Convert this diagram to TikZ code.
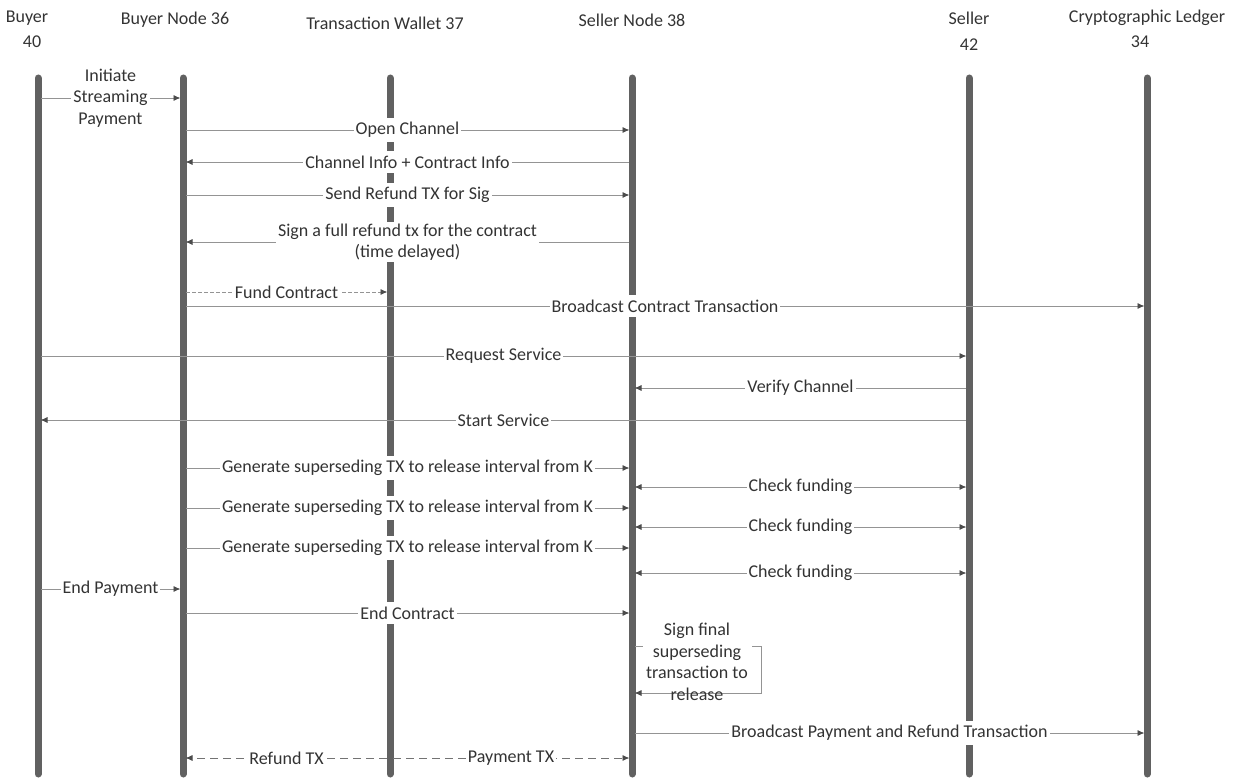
\documentclass[tikz,border=0pt]{standalone}
\usepackage{fontspec}
\setmainfont{Carlito}
\usetikzlibrary{arrows.meta}
\begin{document}
\begin{tikzpicture}[x=1pt,y=-1pt,
  life/.style={line width=7pt, line cap=round, draw=black!62},
  msg/.style={draw=black!42, line width=0.9pt, shorten >=2.5pt, shorten <=3pt,
    -{Latex[length=7pt,width=6pt,color=black!70]}},
  bimsg/.style={msg, {Latex[length=7pt,width=6pt,color=black!70]}-{Latex[length=7pt,width=6pt,color=black!70]}, shorten <=2.5pt},
  dmsg/.style={msg, draw=black!55, dash pattern=on 8pt off 5pt},
  fmsg/.style={msg, dash pattern=on 4pt off 2pt},
  lbl/.style={fill=white, inner xsep=2pt, inner ysep=4.5pt, text=black!80, align=center,
    font=\fontsize{18}{21.5}\selectfont},
  hdr/.style={text=black!80, font=\fontsize{18}{20}\selectfont, inner sep=0pt}]
\useasboundingbox (0,0) rectangle (1233,778);

% headers
\node[hdr] (hB)  at (27,18)   {Buyer};
\node[hdr] (hB2) at (32,42)   {40};
\node[hdr] (hBN) at (175,20)  {Buyer Node 36};
\node[hdr] (hTW) at (385,23)  {Transaction Wallet 37};
\node[hdr] (hSN) at (632,20)  {Seller Node 38};
\node[hdr] (hS)  at (969,18)  {Seller};
\node[hdr] (hS2) at (969,45)  {42};
\node[hdr] (hL)  at (1147,18) {Cryptographic Ledger};
\node[hdr] (hL2) at (1140,42) {34};

% lifelines
\coordinate (B)  at (38,78);   \coordinate (Bb)  at (38,774);
\coordinate (BN) at (183,78);  \coordinate (BNb) at (183,774);
\coordinate (TW) at (390,78);  \coordinate (TWb) at (390,774);
\coordinate (SN) at (632,78);  \coordinate (SNb) at (632,774);
\coordinate (S)  at (969,78);  \coordinate (Sb)  at (969,774);
\coordinate (L)  at (1147,78); \coordinate (Lb)  at (1147,774);
\foreach \a/\b in {B/Bb,BN/BNb,TW/TWb,SN/SNb,S/Sb,L/Lb}
  \draw[life] (\a) -- (\b);

% messages
\draw[msg] (B |- 0,98) -- (BN |- 0,98) node[lbl,midway,inner ysep=0pt] (m1) {Initiate\\Streaming\\Payment};
\draw[msg] (BN |- 0,130) -- (SN |- 0,130) node[lbl,midway] (m2) {Open Channel};
\draw[msg] (SN |- 0,162) -- (BN |- 0,162) node[lbl,midway] (m3) {Channel Info + Contract Info};
\draw[msg] (BN |- 0,195) -- (SN |- 0,195) node[lbl,midway] (m4) {Send Refund TX for Sig};
\draw[msg] (SN |- 0,242) -- (BN |- 0,242) node[lbl,midway,inner ysep=2pt] (m5) {Sign a full refund tx for the contract\\(time delayed)};
\draw[fmsg] (BN |- 0,292) -- (TW |- 0,292) node[lbl,midway,inner ysep=1pt] (m6) {Fund Contract};
\draw[msg] (BN |- 0,306) -- (L |- 0,306) node[lbl,midway] (m7) {Broadcast Contract Transaction};
\draw[msg] (B |- 0,356) -- (S |- 0,356) node[lbl,midway] (m8) {Request Service};
\draw[msg] (S |- 0,388) -- (SN |- 0,388) node[lbl,midway] (m9) {Verify Channel};
\draw[msg] (S |- 0,420) -- (B |- 0,420) node[lbl,midway] (m10) {Start Service};
\draw[msg] (BN |- 0,468) -- (SN |- 0,468) node[lbl,midway] (m11) {Generate superseding TX to release interval from K};
\draw[bimsg] (SN |- 0,487) -- (S |- 0,487) node[lbl,midway] (m12) {Check funding};
\draw[msg] (BN |- 0,508) -- (SN |- 0,508) node[lbl,midway] (m13) {Generate superseding TX to release interval from K};
\draw[bimsg] (SN |- 0,527) -- (S |- 0,527) node[lbl,midway] (m14) {Check funding};
\draw[msg] (BN |- 0,548) -- (SN |- 0,548) node[lbl,midway] (m15) {Generate superseding TX to release interval from K};
\draw[bimsg] (SN |- 0,573) -- (S |- 0,573) node[lbl,midway] (m16) {Check funding};
\draw[msg] (B |- 0,589) -- (BN |- 0,589) node[lbl,midway,inner ysep=1pt] (m17) {End Payment};
\draw[msg] (BN |- 0,613) -- (SN |- 0,613) node[lbl,midway] (m18) {End Contract};

% self loop on seller node
\coordinate (lpA) at (761,646);
\coordinate (lpB) at (761,693);
\draw[msg] (SN |- lpA) -- (lpA) -- (lpB) -- (SN |- lpB);
\fill[white] (643,620) rectangle (752,684);
\node[lbl,fill=none,inner sep=0pt] (m19) at (697,662) {Sign final\\superseding\\transaction to\\release};

\draw[msg] (SN |- 0,733) -- (L |- 0,733) node[lbl,midway] (m20) {Broadcast Payment and Refund Transaction};
\draw[dmsg] (TW |- 0,758) -- (BN |- 0,758) node[lbl,midway,inner ysep=1pt] (m21) {Refund TX};
\draw[dmsg] (TW |- 0,758) -- (SN |- 0,758) node[lbl,midway,inner ysep=1pt] (m22) {Payment TX};
\end{tikzpicture}
\end{document}
